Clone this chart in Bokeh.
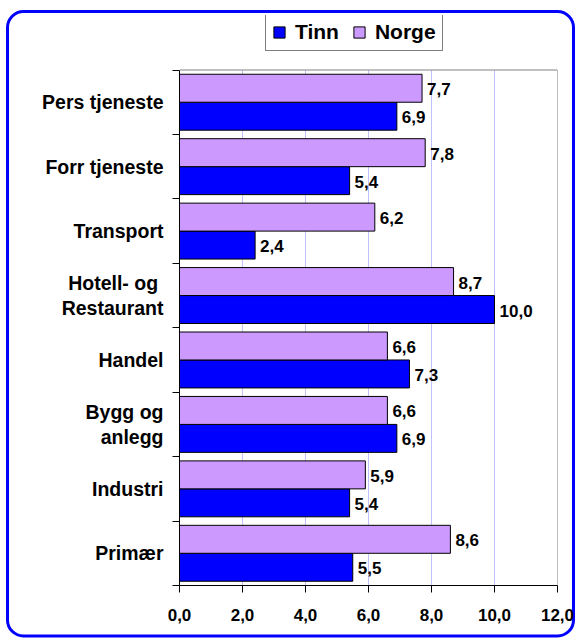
from bokeh.plotting import figure
from bokeh.models import FixedTicker, Legend, LegendItem, ColumnDataSource, Range1d
from bokeh.core.properties import value
from bokeh.embed import file_html
from bokeh.resources import INLINE

# data (bottom to top)
categories = ["Primær", "Industri", "Bygg og\nanlegg", "Handel",
              "Hotell- og \nRestaurant", "Transport", "Forr tjeneste", "Pers tjeneste"]
tinn = [5.5, 5.4, 6.9, 7.3, 10.0, 2.4, 5.4, 6.9]
norge = [8.6, 5.9, 6.6, 6.6, 8.7, 6.2, 7.8, 7.7]
x_ticks = [0, 2, 4, 6, 8, 10, 12]

FONT = "Liberation Sans"
BAR_H = 0.434
N = len(categories)
centers = [i + 0.5 for i in range(N)]

def fmt(v):
    return f"{v:.1f}".replace(".", ",")

src_t = ColumnDataSource(dict(y=[c - BAR_H / 2 for c in centers], x=tinn,
                              lbl=[fmt(v) for v in tinn]))
src_n = ColumnDataSource(dict(y=[c + BAR_H / 2 for c in centers], x=norge,
                              lbl=[fmt(v) for v in norge]))

W, H = 576, 638
BORDER_TOP, BORDER_BOTTOM = 15, 53
DATA_TOP_PX = 69.5           # where the category area ends at the top
px_per_cat = (H - BORDER_BOTTOM - DATA_TOP_PX) / N
y_end = (H - BORDER_BOTTOM - BORDER_TOP) / px_per_cat   # frame extended to hold legend

p = figure(width=W, height=H, output_backend="svg", toolbar_location=None,
           x_range=Range1d(x_ticks[0], x_ticks[-1]), y_range=Range1d(0, y_end),
           min_border_left=179, min_border_right=19, min_border_top=BORDER_TOP,
           min_border_bottom=BORDER_BOTTOM)
p.background_fill_alpha = 0
p.border_fill_alpha = 0
p.outline_line_color = None

# vertical grid lines (plot area only)
gx = x_ticks[1:-1]
p.segment(x0=gx, x1=gx, y0=[0] * len(gx), y1=[N] * len(gx),
          line_color="#c0c0ff", line_width=1, level="underlay")
# plot-area top and right edges
p.segment(x0=[x_ticks[0], x_ticks[-1]], x1=[x_ticks[-1], x_ticks[-1]],
          y0=[N, 0], y1=[N, N], line_color="#808080", line_width=1)

r_t = p.hbar(y="y", right="x", left=0, height=BAR_H, source=src_t,
             fill_color="#0000FF", line_color="black", line_width=1)
r_n = p.hbar(y="y", right="x", left=0, height=BAR_H, source=src_n,
             fill_color="#CC99FF", line_color="black", line_width=1)

for s in (src_t, src_n):
    p.text(x="x", y="y", text="lbl", source=s, x_offset=5, y_offset=1,
           text_baseline="middle", text_align="left",
           text_font=value(FONT), text_font_style="bold",
           text_font_size="17px", text_color="black")

# x axis
p.xaxis.ticker = FixedTicker(ticks=x_ticks)
p.xaxis.major_label_overrides = {t: fmt(t) for t in x_ticks}
p.xaxis.major_label_text_font = FONT
p.xaxis.major_label_text_font_style = "bold"
p.xaxis.major_label_text_font_size = "17px"
p.xaxis.major_label_text_color = "black"
p.xaxis.major_tick_out = 7
p.xaxis.major_tick_in = 0
p.xaxis.minor_tick_line_color = None
p.xaxis.major_label_standoff = 16
p.xaxis.axis_line_color = "black"

# y axis
p.yaxis.bounds = (0, N)
p.yaxis.ticker = FixedTicker(ticks=centers, minor_ticks=list(range(N + 1)))
p.yaxis.major_label_overrides = {c: lab for c, lab in zip(centers, categories)}
p.yaxis.major_label_text_font = FONT
p.yaxis.major_label_text_font_style = "bold"
p.yaxis.major_label_text_font_size = "19.5px"
p.yaxis.major_label_text_color = "black"
p.yaxis.major_label_text_line_height = 1.16
p.yaxis.major_tick_line_color = None
p.yaxis.major_tick_out = 0
p.yaxis.major_tick_in = 0
p.yaxis.minor_tick_out = 7
p.yaxis.minor_tick_in = 0
p.yaxis.minor_tick_line_color = "black"
p.yaxis.major_label_standoff = 9
p.yaxis.axis_line_color = "black"

p.xgrid.visible = False
p.ygrid.visible = False

legend = Legend(items=[LegendItem(label="Tinn", renderers=[r_t]),
                       LegendItem(label="Norge", renderers=[r_n])],
                orientation="horizontal", location=(86, 534),
                label_text_font=FONT, label_text_font_style="bold",
                label_text_font_size="21px", label_text_color="black",
                glyph_width=14, glyph_height=14, label_standoff=9,
                spacing=13, padding=6, margin=0, label_height=21,
                border_line_color="black", border_line_width=1,
                background_fill_color="white", background_fill_alpha=1)
p.add_layout(legend, "center")

# rounded blue chart-area border drawn behind the (transparent) canvas
svg_bg = ("data:image/svg+xml;utf8,<svg xmlns='http://www.w3.org/2000/svg' "
          f"width='{W}' height='{H}'><rect x='7.5' y='11.5' width='566' height='624.5' "
          "rx='16' ry='16' fill='white' stroke='%230000ff' stroke-width='3'/></svg>")
p.styles = {"background-image": f"url(\"{svg_bg}\")", "background-repeat": "no-repeat",
            "background-color": "white"}

open("out.html", "w").write(file_html(p, INLINE))
